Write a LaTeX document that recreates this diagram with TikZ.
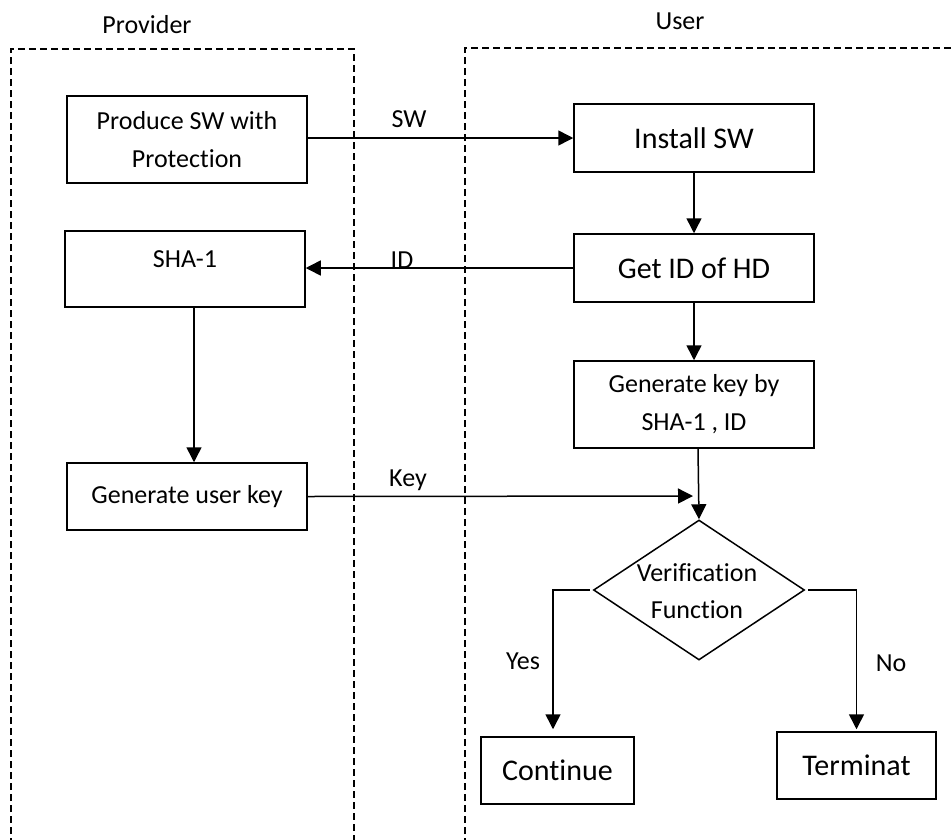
\documentclass[tikz,border=0pt]{standalone}
\usepackage{fontspec}
\setmainfont{Carlito}[Ligatures=NoCommon]
\usetikzlibrary{arrows.meta,shapes.geometric}
\begin{document}
\begin{tikzpicture}[x=1pt,y=-1pt,
  box/.style={draw, line width=1.5pt, minimum width=240pt, inner sep=0pt, align=center, font=\fontsize{26}{38}\selectfont},
  bigtxt/.style={font=\fontsize{30}{36}\selectfont},
  lbl/.style={anchor=base, font=\fontsize{26}{30}\selectfont, inner sep=0pt},
  arr/.style={line width=1.5pt, -{Triangle[length=15pt,width=15pt]}},
  lane/.style={line width=1.4pt, dash pattern=on 7pt off 4pt}]
\useasboundingbox (0,0) rectangle (951,839);
\clip (0,0) rectangle (951,839);
\fill[white] (0,0) rectangle (951,839);

% lanes
\draw[lane] (11,845) -- (11,49) -- (354,49) -- (354,845);
\draw[lane] (465,845) -- (465,48) -- (960,48);
\node[lbl] (provider) at (147,33) {Provider};
\node[lbl] (user) at (680,29) {User};

% provider boxes
\node[box, minimum height=87pt] (prod) at (187,139.5) {Produce SW with\\Protection};
\node[box, minimum height=76pt] (sha) at (185,269) {};
\node[lbl] (shatxt) at (185,267) {SHA-1};
\node[box, minimum height=67pt] (guk) at (187,496.5) {Generate user key};

% user boxes
\node[box, bigtxt, minimum height=68pt] (inst) at (694,138) {Install SW};
\node[box, bigtxt, minimum height=68pt] (getid) at (694,268) {Get ID of HD};
\node[box, minimum height=87pt] (genk) at (694,404.5) {Generate key by\\SHA-1 , ID};
\node[draw, diamond, line width=1.5pt, minimum width=211pt, minimum height=140pt, inner sep=0pt] (ver) at (699,590) {};
\node[align=center, inner sep=0pt, font=\fontsize{26}{37}\selectfont] (vtxt) at (697,591) {Verification\\Function};
\node[box, bigtxt, minimum width=153pt, minimum height=67pt] (cont) at (557.5,770.5) {Continue};
\node[box, bigtxt, minimum width=159pt, minimum height=67pt] (term) at (856.5,765.5) {Terminat};

% connectors
\draw[arr] (prod.east |- inst.west) -- (inst.west);
\draw[arr] (getid.west) -- (getid.west -| sha.east);
\draw[arr] (inst.south) -- (getid.north);
\draw[arr] (getid.south) -- (genk.north);
\draw[arr] ([xshift=9pt]sha.south) -- ([xshift=9pt]sha.south |- guk.north);
\draw[arr] ([xshift=4pt]genk.south) -- (ver.north);
\coordinate (keyend) at (693,496);
\draw[arr] (guk.east) -- (keyend);
\draw[arr] ([xshift=-3pt]ver.west) -| ([xshift=-4.5pt,yshift=7pt]cont.north);
\draw[arr] ([xshift=3pt]ver.east) -| ([yshift=2pt]term.north);

% labels
\node[lbl] (sw) at (409,127) {SW};
\node[lbl] (id) at (402,268) {ID};
\node[lbl] (key) at (408,486) {Key};
\node[lbl] (yes) at (523,669) {Yes};
\node[lbl] (no) at (891,671) {No};
\end{tikzpicture}
\end{document}
